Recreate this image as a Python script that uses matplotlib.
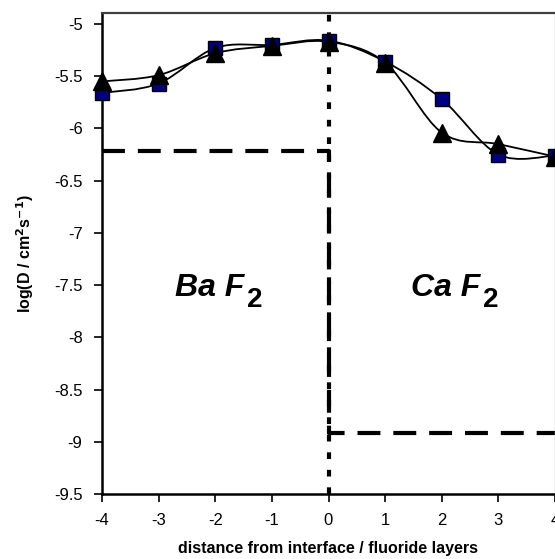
import matplotlib
matplotlib.use("Agg")
import matplotlib.pyplot as plt
from matplotlib.path import Path
from matplotlib.patches import PathPatch

plt.rcParams['font.family'] = ['Liberation Sans', 'DejaVu Sans']

layers = [-4, -3, -2, -1, 0, 1, 2, 3, 4]
squares = [-5.66, -5.57, -5.23, -5.20, -5.16, -5.36, -5.72, -6.25, -6.26]
triangles = [-5.55, -5.49, -5.28, -5.21, -5.17, -5.37, -6.04, -6.15, -6.27]

bulk_x = [-4, 0, 0, 4]
bulk_y = [-6.22, -6.22, -8.92, -8.92]


def smooth_path(xs, ys):
    # Catmull-Rom curve drawn as cubic Bezier segments through the data points
    pts = list(zip(xs, ys))
    verts = [pts[0]]
    codes = [Path.MOVETO]
    n = len(pts)
    for i in range(n - 1):
        p0 = pts[max(i - 1, 0)]
        p1 = pts[i]
        p2 = pts[i + 1]
        p3 = pts[min(i + 2, n - 1)]
        c1 = (p1[0] + (p2[0] - p0[0]) / 6, p1[1] + (p2[1] - p0[1]) / 6)
        c2 = (p2[0] - (p3[0] - p1[0]) / 6, p2[1] - (p3[1] - p1[1]) / 6)
        verts += [c1, c2, p2]
        codes += [Path.CURVE4] * 3
    return Path(verts, codes)


fig = plt.figure(figsize=(5.55, 5.59), dpi=100)
ax = fig.add_axes([102 / 555, 1 - 494 / 559, (555 - 102) / 555, (494 - 13) / 559])

# interface and bulk diffusion step
ax.axvline(0, color='black', lw=3, dashes=(1.6, 2.6), zorder=1)
ax.plot(bulk_x, bulk_y, color='black', lw=3, dashes=(5.5, 3.1), zorder=1)

for ys in (squares, triangles):
    ax.add_patch(PathPatch(smooth_path(layers, ys), fill=False, edgecolor='black', lw=1.3, zorder=2))

ax.plot(layers, squares, linestyle='none', marker='s', markersize=10,
        markerfacecolor='#000080', markeredgecolor='black', markeredgewidth=1, zorder=3, clip_on=False)
ax.plot(layers, triangles, linestyle='none', marker='^', markersize=12.5,
        markerfacecolor='black', markeredgecolor='black', zorder=4, clip_on=False)

t1 = ax.text(-2.71, -7.6, 'Ba F', fontsize=23, fontweight='bold', style='italic', va='baseline')
ax.annotate('2', xy=(1, 0), xycoords=t1, xytext=(2, -3.5), textcoords='offset points',
            fontsize=20, fontweight='bold', va='baseline', ha='left')
t2 = ax.text(1.46, -7.6, 'Ca F', fontsize=23, fontweight='bold', style='italic', va='baseline')
ax.annotate('2', xy=(1, 0), xycoords=t2, xytext=(2, -3.5), textcoords='offset points',
            fontsize=20, fontweight='bold', va='baseline', ha='left')

ax.set_xlim(-4, 4)
ax.set_ylim(-9.5, -4.895)
ax.set_xticks(layers)
ax.set_xticklabels([str(v) for v in layers])
ax.set_yticks([-9.5, -9, -8.5, -8, -7.5, -7, -6.5, -6, -5.5, -5])
ax.set_yticklabels(['-9.5', '-9', '-8.5', '-8', '-7.5', '-7', '-6.5', '-6', '-5.5', '-5'])
ax.tick_params(direction='out', length=6, width=1.2, labelsize=12, pad=8)

ax.spines['left'].set_linewidth(1.8)
ax.spines['bottom'].set_linewidth(1.8)
ax.spines['top'].set_linewidth(1.6)
ax.spines['top'].set_color('#404040')
ax.spines['right'].set_linewidth(1)
ax.spines['right'].set_color('#bbbbbb')

ax.set_xlabel('distance from interface / fluoride layers', fontsize=11.5, fontweight='bold', labelpad=9)
ax.set_ylabel(r'log(D / cm$^\mathbf{2}$s$^\mathbf{-1}$)', fontsize=11.5, fontweight='bold', labelpad=13)

fig.savefig('out.png', dpi=100)
